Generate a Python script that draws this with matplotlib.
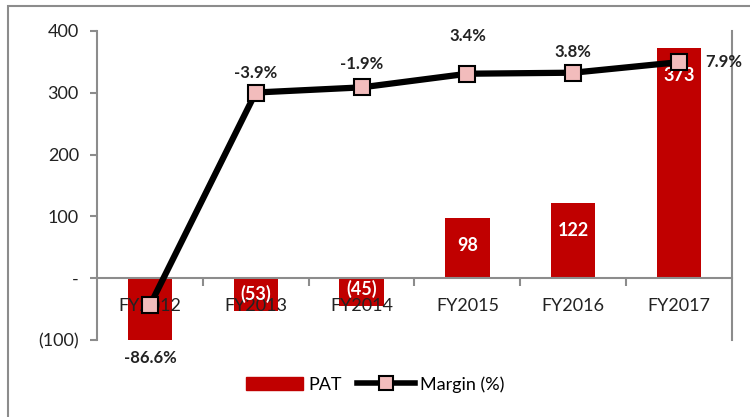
import matplotlib.pyplot as plt
from matplotlib.patches import Rectangle
from matplotlib.lines import Line2D
from matplotlib.patches import Patch

years = ['FY2012', 'FY2013', 'FY2014', 'FY2015', 'FY2016', 'FY2017']
pat = [-100, -53, -45, 98, 122, 373]
pat_labels = ['', '(53)', '(45)', '98', '122', '373']
margin = [-86.6, -3.9, -1.9, 3.4, 3.8, 7.9]
y_ticks = [-100, 0, 100, 200, 300, 400]
y_tick_labels = ['(100)', '-', '100', '200', '300', '400']

plt.rcParams['font.family'] = ['Lato', 'DejaVu Sans']

red = '#C00000'
grey = '#8C8C8C'

fig = plt.figure(figsize=(7.5, 4.17), dpi=100)
ax = fig.add_axes([0.1293, 0.1847, 0.9760 - 0.1293, 0.9257 - 0.1847])

x = list(range(len(years)))
ax.bar(x, pat, width=0.42, color=red, zorder=1)
ax.set_xlim(-0.5, 5.5)
ax.set_ylim(-100, 400)

# value labels inside bars
for xi, v, lab in zip(x, pat, pat_labels):
    if not lab:
        continue
    off = -20 if v > 0 else 12
    ax.annotate(lab, (xi, v), xytext=(0, off), textcoords='offset points',
                ha='center', va='center', color='white', fontsize=13,
                fontweight='bold', zorder=5)

# axes styling
ax.spines['top'].set_visible(False)
ax.spines['bottom'].set_position(('data', 0))
for s in ['left', 'right', 'bottom']:
    ax.spines[s].set_color(grey)
    ax.spines[s].set_linewidth(1.5)

ax.set_yticks(y_ticks)
ax.set_yticklabels(y_tick_labels)
ax.tick_params(axis='y', direction='out', length=5, width=1.5, color=grey,
               labelsize=13, pad=8, labelcolor='#222222')

ax.set_xticks([0.5, 1.5, 2.5, 3.5, 4.5])
ax.set_xticklabels([])
ax.set_xticks(x, minor=True)
ax.set_xticklabels(years, minor=True)
ax.tick_params(axis='x', which='major', direction='out', length=6, width=1.5,
               color=grey)
ax.tick_params(axis='x', which='minor', length=0, pad=14, labelsize=13,
               labelcolor='#222222')

# margin line on a hidden secondary axis
ax2 = ax.twinx()
ax2.set_ylim(-100, 20)
ax2.set_yticks([])
for s in ax2.spines.values():
    s.set_visible(False)
ax2.plot(x, margin, color='black', lw=4.5, marker='s', markersize=11,
         markerfacecolor='#F2BCBC', markeredgecolor='black',
         markeredgewidth=1.5, zorder=4)

label_offsets = [(0, -38), (0, 14), (0, 17), (0, 27), (0, 15), (32, 0)]
for xi, m, off in zip(x, margin, label_offsets):
    ax2.annotate(f'{m:.1f}%', (xi, m), xytext=off, textcoords='offset points',
                 ha='center', va='center', fontsize=12, fontweight='bold',
                 color='#222222')

# legend
handles = [Patch(color=red, label='PAT'),
           Line2D([], [], color='black', lw=4, marker='s', markersize=10,
                  markerfacecolor='#F2BCBC', markeredgecolor='black',
                  markeredgewidth=1.5, label='Margin (%)')]
fig.legend(handles=handles, loc='center', bbox_to_anchor=(0.5, 0.078),
           ncol=2, frameon=False, fontsize=13, handlelength=3.2,
           handletextpad=0.3, columnspacing=0.8)

# outer chart frame
fig.add_artist(Rectangle((8 / 750, -0.1), 1.2, 1 - 6 / 417 + 0.1,
                         transform=fig.transFigure, fill=False,
                         edgecolor=grey, lw=1.5))

fig.savefig('out.png', dpi=100)
